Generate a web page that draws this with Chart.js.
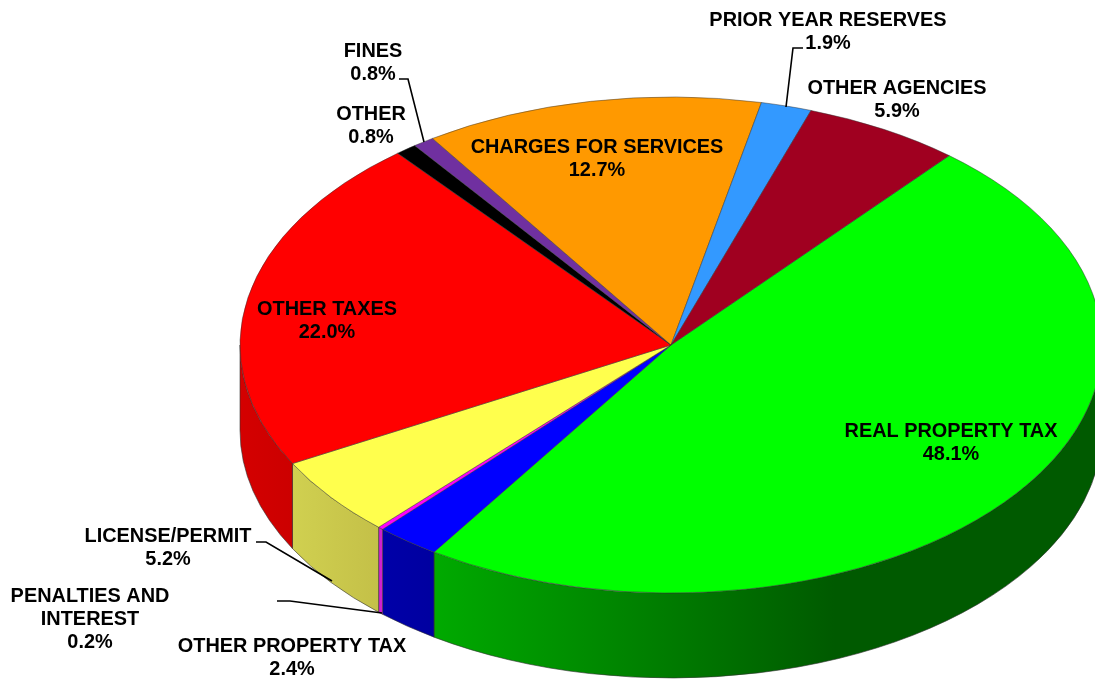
<!DOCTYPE html>
<html>
<head>
<meta charset="utf-8">
<style>html,body{margin:0;padding:0;background:#fff}canvas{display:block}</style>
<script src="https://cdn.jsdelivr.net/npm/chart.js@4/dist/chart.umd.min.js"></script>
</head>
<body>
<canvas id="c" width="1095" height="682"></canvas>
<script>
const categories = ['REAL PROPERTY TAX','OTHER PROPERTY TAX','PENALTIES AND INTEREST','LICENSE/PERMIT','OTHER TAXES','OTHER','FINES','CHARGES FOR SERVICES','PRIOR YEAR RESERVES','OTHER AGENCIES'];
const shares = [48.1,2.4,0.2,5.2,22.0,0.8,0.8,12.7,1.9,5.9];
const topColors = ['#00ff00','#0000ff','#ff00ff','#ffff4d','#ff0000','#000000','#7030a0','#ff9900','#3399ff','#a00020'];
const wallColors = [['#00aa00','#005a00'],['#0000a8','#0000a0'],['#d020d0','#d020d0'],['#d0d050','#c4c048'],['#d40000','#cc0000'],['#000','#000'],['#502080','#502080'],['#c07000','#c07000'],['#2070c0','#2070c0'],['#700018','#700018']];
const labelLines = [['REAL PROPERTY TAX'],['OTHER PROPERTY TAX'],['PENALTIES AND','INTEREST'],['LICENSE/PERMIT'],['OTHER TAXES'],['OTHER'],['FINES'],['CHARGES FOR SERVICES'],['PRIOR YEAR RESERVES'],['OTHER AGENCIES']];
const labelX = [951,292,90,168,327,371,373,597,828,897];
const labelY = [432,647,597,537,310,115,52,148,21,89];
const leaders = {
  6:[[399,79],[408,79],[424,142]],
  8:[[803,48],[793,48],[786,107]],
  3:[[256,542],[266,542],[332,581]],
  2:[[277,601],[290,601],[382,613]]
};
const RX = 431, RY = 248, CY = 345, DEPTH = 85, SQUASH = RY / RX;

const pie3d = {
  id:'pie3d',
  beforeDatasetsDraw(chart){
    const ctx = chart.ctx, arcs = chart.getDatasetMeta(0).data;
    const sy = y => CY + (y - (chart.chartArea.top + chart.chartArea.bottom)/2) * SQUASH;
    ctx.save();
    arcs.forEach((arc,i)=>{
      const cx = arc.x, cy = sy(arc.y);
      [0,2*Math.PI].forEach(base=>{
        const a1 = Math.max(arc.startAngle, base), a2 = Math.min(arc.endAngle, base+Math.PI);
        if(a2 <= a1) return;
        const x1 = cx+RX*Math.cos(a1), x2 = cx+RX*Math.cos(a2);
        const g = ctx.createLinearGradient(Math.min(x1,x2),0,Math.max(x1,x2),0);
        g.addColorStop(0, wallColors[i][0]);
        if(i===0) g.addColorStop(0.6, wallColors[i][1]);
        g.addColorStop(1, wallColors[i][1]);
        ctx.beginPath();
        ctx.ellipse(cx,cy,RX,RY,0,a1,a2);
        ctx.ellipse(cx,cy+DEPTH,RX,RY,0,a2,a1,true);
        ctx.closePath();
        ctx.fillStyle = g; ctx.fill();
        ctx.lineWidth = 1; ctx.strokeStyle = 'rgba(50,50,50,0.6)'; ctx.stroke();
      });
    });
    ctx.restore();
    ctx.save();
    ctx.translate(0, sy(0));
    ctx.scale(1, SQUASH);
  },
  afterDatasetsDraw(chart){
    const ctx = chart.ctx;
    ctx.restore();
    ctx.save();
    ctx.strokeStyle = '#000'; ctx.lineWidth = 1.6;
    Object.values(leaders).forEach(pts=>{
      ctx.beginPath();
      pts.forEach((p,k)=> k ? ctx.lineTo(p[0],p[1]) : ctx.moveTo(p[0],p[1]));
      ctx.stroke();
    });
    ctx.fillStyle = '#000';
    ctx.font = 'bold 19.9px "Liberation Sans", Arial, sans-serif';
    ctx.textAlign = 'center'; ctx.textBaseline = 'middle';
    categories.forEach((c,i)=>{
      const lines = labelLines[i].concat(shares[i].toFixed(1)+'%');
      lines.forEach((t,k)=> ctx.fillText(t, labelX[i], labelY[i]+k*23));
    });
    ctx.restore();
  }
};

new Chart(document.getElementById('c'),{
  type:'pie',
  data:{labels:categories,datasets:[{data:shares,backgroundColor:topColors,borderColor:'rgba(50,50,50,0.6)',borderWidth:1,radius:RX,clip:false}]},
  options:{
    responsive:false,animation:false,rotation:40.2,
    layout:{padding:{left:247}},
    plugins:{legend:{display:false},tooltip:{enabled:false},title:{display:false}}
  },
  plugins:[pie3d]
});
</script>
</body>
</html>
